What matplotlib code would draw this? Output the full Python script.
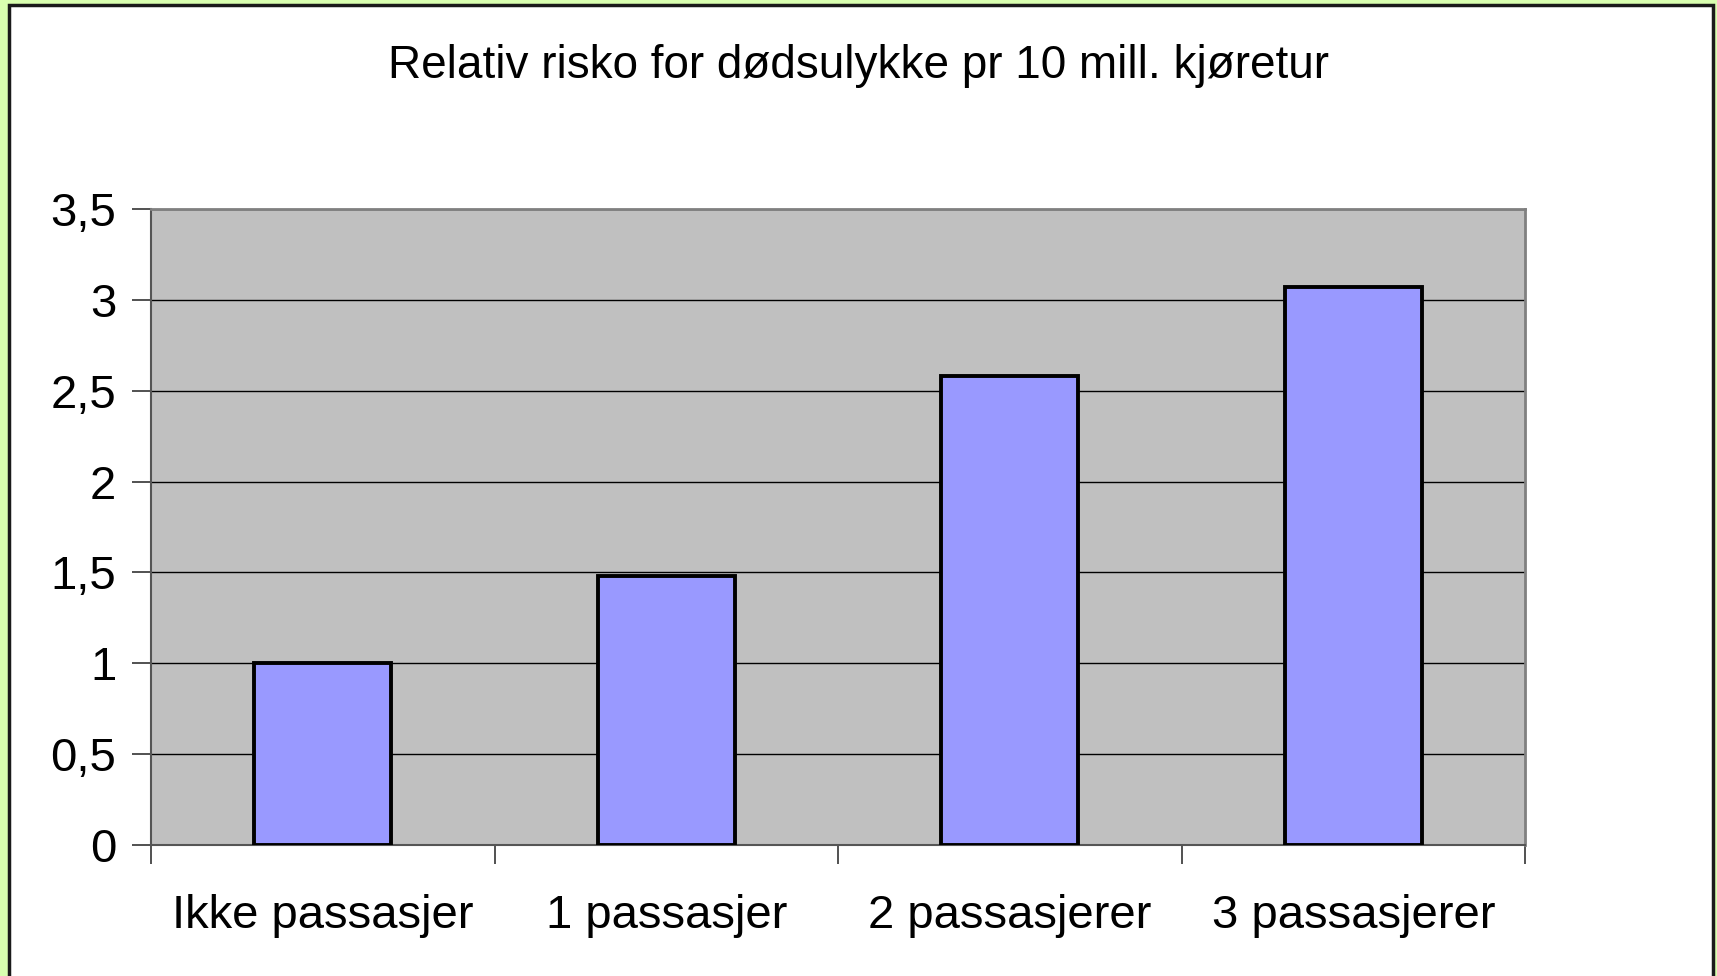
import matplotlib.pyplot as plt
import numpy as np
from matplotlib.patches import Rectangle

plt.rcParams['font.family'] = ['Liberation Sans', 'DejaVu Sans']

categories = ['Ikke passasjer', '1 passasjer', '2 passasjerer', '3 passasjerer']
risk = [1.0, 1.48, 2.58, 3.07]
yticks = [0, 0.5, 1, 1.5, 2, 2.5, 3, 3.5]
ytick_labels = ['0', '0,5', '1', '1,5', '2', '2,5', '3', '3,5']

fig = plt.figure(figsize=(17.17, 9.76), dpi=100)
fig.patch.set_facecolor('#d9ffb0')
# white panel with dark frame
fig.patches.append(Rectangle((9 / 1717, -0.01), (1713 - 9) / 1717, 1.01 - 5 / 976,
                             transform=fig.transFigure, facecolor='white',
                             edgecolor='#1a1a1a', linewidth=2.5, zorder=-5))

ax = fig.add_axes([151 / 1717, 1 - 845 / 976, (1525 - 151) / 1717, (845 - 209) / 976])
ax.set_zorder(2)
ax.set_facecolor('#c0c0c0')

x = np.arange(len(categories))
ax.bar(x, risk, width=0.40, color='#9999ff', edgecolor='black', linewidth=2.8, zorder=3)

ax.set_xlim(-0.5, len(categories) - 0.5)
ax.set_ylim(0, 3.5)
ax.set_yticks(yticks)
ax.set_yticklabels(ytick_labels, fontsize=34)
ax.yaxis.grid(True, color='black', linewidth=1)
ax.set_axisbelow(True)

# ticks sit between categories, labels centred under bars
ax.set_xticks(np.arange(len(categories) + 1) - 0.5)
ax.set_xticklabels([])
ax.set_xticks(x, minor=True)
ax.set_xticklabels(categories, minor=True, fontsize=34)
ax.tick_params(axis='x', which='minor', length=0, pad=35)
ax.tick_params(axis='x', which='major', length=14, width=1.2, color='#333333')
ax.tick_params(axis='y', length=14, width=1.2, color='#333333', pad=11)

for side in ['top', 'right']:
    ax.spines[side].set_color('#808080')
    ax.spines[side].set_linewidth(2)
for side in ['left', 'bottom']:
    ax.spines[side].set_color('#555555')
    ax.spines[side].set_linewidth(1.5)

fig.text(0.5, 1 - 66 / 976, 'Relativ risko for dødsulykke pr 10 mill. kjøretur',
         ha='center', va='center', fontsize=33)

fig.savefig('out.png', dpi=100)
